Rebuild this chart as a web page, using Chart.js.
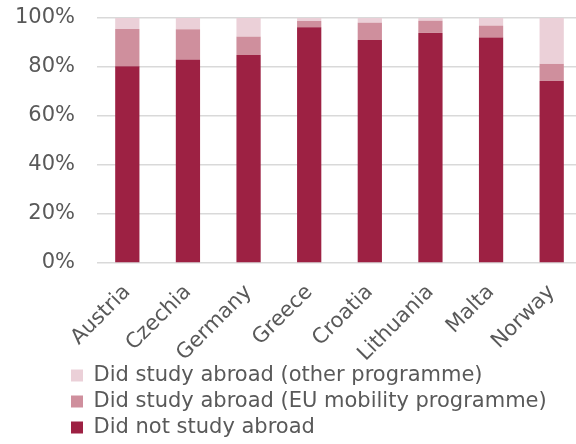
<!DOCTYPE html>
<html>
<head>
<meta charset="utf-8">
<script src="https://cdn.jsdelivr.net/npm/chart.js@4/dist/chart.umd.min.js"></script>
<style>
  html, body { margin: 0; padding: 0; background: #ffffff; overflow: hidden; }
  #wrap { width: 576px; height: 444px; overflow: hidden; }
</style>
</head>
<body>
<div id="wrap"><canvas id="chart" width="582" height="444"></canvas></div>
<script>
// Countries
const countries = ['Austria', 'Czechia', 'Germany', 'Greece', 'Croatia', 'Lithuania', 'Malta', 'Norway'];

// Share of graduates (%)
const didNotStudyAbroad = [80.3, 83.1, 84.9, 96.2, 91.0, 93.9, 92.0, 74.3];
const euMobility        = [15.2, 12.3,  7.5,  2.6,  7.1,  5.0,  4.9,  7.0];
const otherProgramme    = [ 4.5,  4.6,  7.6,  1.2,  1.9,  1.1,  3.1, 18.7];

// Y axis ticks
const yTicks = [0, 20, 40, 60, 80, 100];

const seriesNames = [
  'Did not study abroad',
  'Did study abroad (EU mobility programme)',
  'Did study abroad (other programme)'
];

const textColor = '#595959';
const fontFamily = '"DejaVu Sans", Verdana, sans-serif';

// Places the stacked legend at the left margin under the plot and lets
// the rotated country names run past the axis box
const layoutTweaks = {
  id: 'layoutTweaks',
  afterLayout(chart) {
    const lg = chart.legend;
    if (lg) {
      lg.left += 52; lg.right += 52;
      lg.top += 4; lg.bottom += 4;
    }
    const x = chart.scales.x;
    if (x) x.bottom = chart.height;
  }
};

new Chart(document.getElementById('chart'), {
  type: 'bar',
  data: {
    labels: countries,
    datasets: [
      { label: seriesNames[0], data: didNotStudyAbroad, backgroundColor: '#9d2143' },
      { label: seriesNames[1], data: euMobility,        backgroundColor: '#cf8f9d' },
      { label: seriesNames[2], data: otherProgramme,    backgroundColor: '#ebd0d8' }
    ]
  },
  options: {
    responsive: false,
    animation: false,
    devicePixelRatio: 1,
    layout: { padding: { left: 14, right: 0, top: 18, bottom: 0 } },
    datasets: {
      bar: { barPercentage: 0.4, categoryPercentage: 1.0, borderWidth: 0 }
    },
    scales: {
      x: {
        stacked: true,
        grid: { display: false },
        border: { display: false },
        afterFit(axis) {
          axis.paddingLeft = 0;
          axis.paddingRight = 0;
          axis.height = 93;
        },
        ticks: {
          color: textColor,
          font: { family: fontFamily, size: 21 },
          minRotation: 45,
          maxRotation: 45,
          padding: 9
        }
      },
      y: {
        stacked: true,
        min: 0,
        max: 100,
        afterBuildTicks(axis) { axis.ticks = yTicks.map(v => ({ value: v })); },
        afterFit(axis) {
          axis.paddingTop = 0;
          axis.paddingBottom = 0;
          axis.width = 83;
        },
        grid: { color: '#d9d9d9', lineWidth: 1.5, drawTicks: false },
        border: { display: false },
        ticks: {
          color: textColor,
          font: { family: fontFamily, size: 21 },
          padding: 22,
          callback: v => v + '%'
        }
      }
    },
    plugins: {
      tooltip: { enabled: false },
      legend: {
        position: 'bottom',
        align: 'start',
        reverse: true,
        labels: {
          color: textColor,
          font: { family: fontFamily, size: 21 },
          boxWidth: 12,
          boxHeight: 12,
          padding: 5
        }
      }
    }
  },
  plugins: [layoutTweaks]
});
</script>
</body>
</html>
